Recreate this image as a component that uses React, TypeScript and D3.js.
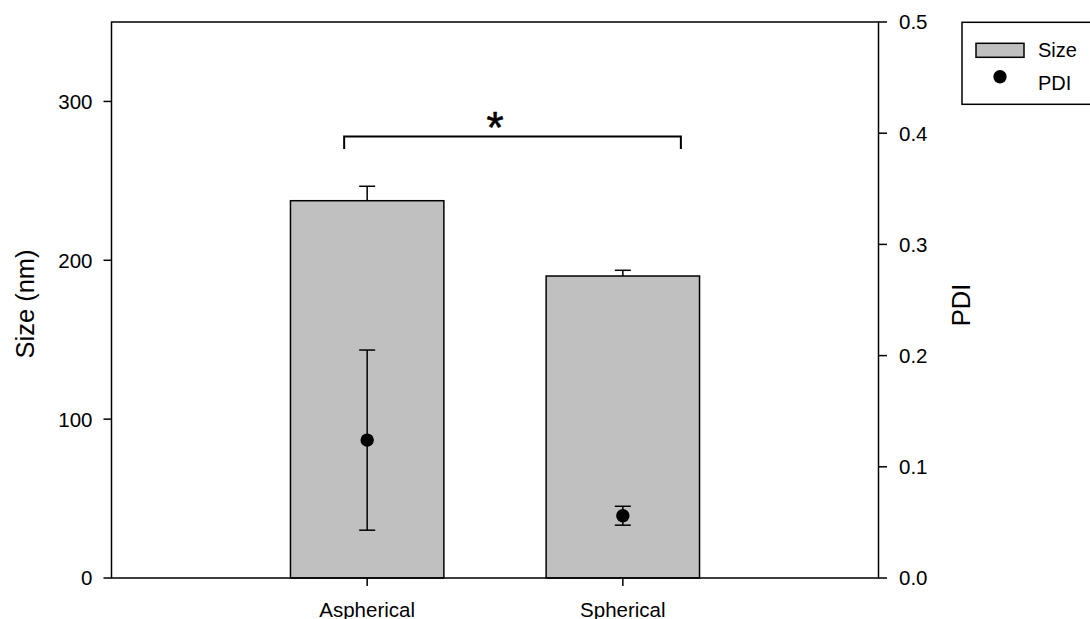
import React from "react";
import * as d3 from "d3";

const categories = ["Aspherical", "Spherical"];
const sizeMean = [237.5, 190.1];
const sizeErr = [9.1, 3.6];
const pdiMean = [0.124, 0.056];
const pdiErr = [0.081, 0.0085];
const sizeTicks = [0, 100, 200, 300];
const pdiTicks = [0, 0.1, 0.2, 0.3, 0.4, 0.5];
const bracketLevel = 278;

const W = 1090;
const H = 619;
const L = 111.5;
const R = 878.5;
const T = 22;
const B = 578;
const FONT = "Arial, 'Liberation Sans', Helvetica, sans-serif";

export default function App() {
  const x = d3.scaleLinear().domain([0, 3]).range([L, R]);
  const yS = d3.scaleLinear().domain([0, 350]).range([B, T]);
  const yP = d3.scaleLinear().domain([0, 0.5]).range([B, T]);
  const bw = x(0.6) - x(0);
  const cap = 8;
  const sw = 1.5;

  const bracketY = yS(bracketLevel);

  return (
    <svg width={W} height={H} style={{ position: "absolute", left: 0, top: 0, background: "#fff" }} fontFamily={FONT}>
      {/* bars */}
      {categories.map((c, i) => {
        const cx = x(i + 1);
        return (
          <g key={c}>
            <rect x={cx - bw / 2} y={yS(sizeMean[i])} width={bw} height={yS(0) - yS(sizeMean[i])}
              fill="#c0c0c0" stroke="#000" strokeWidth={sw} />
            <line x1={cx} x2={cx} y1={yS(sizeMean[i])} y2={yS(sizeMean[i] + sizeErr[i])} stroke="#000" strokeWidth={sw} />
            <line x1={cx - cap} x2={cx + cap} y1={yS(sizeMean[i] + sizeErr[i])} y2={yS(sizeMean[i] + sizeErr[i])} stroke="#000" strokeWidth={sw} />
          </g>
        );
      })}
      {/* PDI points */}
      {categories.map((c, i) => {
        const cx = x(i + 1);
        const top = yP(pdiMean[i] + pdiErr[i]);
        const bot = yP(pdiMean[i] - pdiErr[i]);
        return (
          <g key={c + "p"}>
            <line x1={cx} x2={cx} y1={top} y2={bot} stroke="#000" strokeWidth={sw} />
            <line x1={cx - cap} x2={cx + cap} y1={top} y2={top} stroke="#000" strokeWidth={sw} />
            <line x1={cx - cap} x2={cx + cap} y1={bot} y2={bot} stroke="#000" strokeWidth={sw} />
            <circle cx={cx} cy={yP(pdiMean[i])} r={6.7} fill="#000" />
          </g>
        );
      })}
      {/* frame */}
      <rect x={L} y={T} width={R - L} height={B - T} fill="none" stroke="#000" strokeWidth={sw} />
      {/* left ticks */}
      {sizeTicks.map((t) => (
        <g key={"s" + t}>
          <line x1={L - 8} x2={L} y1={yS(t)} y2={yS(t)} stroke="#000" strokeWidth={sw} />
          <text x={L - 19} y={yS(t)} dy="0.36em" textAnchor="end" fontSize={20.5}>{t}</text>
        </g>
      ))}
      {/* right ticks */}
      {pdiTicks.map((t) => (
        <g key={"p" + t}>
          <line x1={R} x2={R + 8.5} y1={yP(t)} y2={yP(t)} stroke="#000" strokeWidth={sw} />
          <text x={R + 20.5} y={yP(t)} dy="0.36em" textAnchor="start" fontSize={20.5}>{t.toFixed(1)}</text>
        </g>
      ))}
      {/* bottom ticks */}
      {categories.map((c, i) => (
        <g key={"x" + c}>
          <line x1={x(i + 1)} x2={x(i + 1)} y1={B} y2={B + 8} stroke="#000" strokeWidth={sw} />
          <text x={x(i + 1)} y={616.5} textAnchor="middle" fontSize={20.5}>{c}</text>
        </g>
      ))}
      {/* axis titles */}
      <text transform={`translate(33.5,304) rotate(-90)`} textAnchor="middle" fontSize={25.5}>Size (nm)</text>
      <text transform={`translate(970,305) rotate(-90)`} textAnchor="middle" fontSize={25.5}>PDI</text>
      {/* significance bracket */}
      <path d={`M${x(0.91)},${bracketY + 12.5}V${bracketY}H${x(2.227)}V${bracketY + 12.5}`} fill="none" stroke="#000" strokeWidth={2} />
      <text x={x(1.5)} y={142.5} textAnchor="middle" fontSize={44} stroke="#000" strokeWidth={0.6}>*</text>
      {/* legend */}
      <rect x={962} y={22.3} width={140} height={82} fill="#fff" stroke="#000" strokeWidth={sw} />
      <rect x={976} y={43.3} width={48} height={14} fill="#c0c0c0" stroke="#000" strokeWidth={sw} />
      <text x={1038} y={57.3} fontSize={20}>Size</text>
      <circle cx={1000} cy={76.7} r={6.7} fill="#000" />
      <text x={1038} y={90.3} fontSize={20}>PDI</text>
    </svg>
  );
}
